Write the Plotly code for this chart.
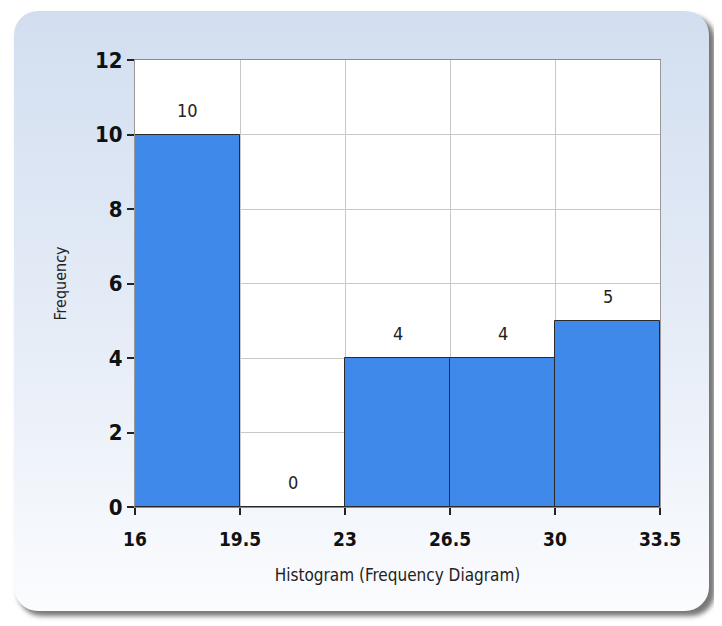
import plotly.graph_objects as go
import base64

bin_edges = [16, 19.5, 23, 26.5, 30, 33.5]
frequencies = [10, 0, 4, 4, 5]
tick_labels = ["16", "19.5", "23", "26.5", "30", "33.5"]
y_ticks = [0, 2, 4, 6, 8, 10, 12]

centers = [(a + b) / 2 for a, b in zip(bin_edges[:-1], bin_edges[1:])]
widths = [b - a for a, b in zip(bin_edges[:-1], bin_edges[1:])]

FONT = "DejaVu Sans Condensed, Liberation Sans Narrow, Roboto Condensed, Liberation Sans, sans-serif"

W, H = 722, 626
OFF = 8  # browser body margin offset
L, T, PW, PH = 135 - OFF, 60 - OFF, 525, 447
R, B = W - L - PW, H - T - PH

svg = f'''<svg xmlns="http://www.w3.org/2000/svg" width="{W}" height="{H}" viewBox="0 0 {W} {H}">
<defs>
<linearGradient id="g" x1="0" y1="0" x2="0" y2="1">
<stop offset="0" stop-color="#d2def0"/>
<stop offset="0.55" stop-color="#e6edf7"/>
<stop offset="1" stop-color="#fbfcfe"/>
</linearGradient>
<filter id="b" x="-5%" y="-5%" width="110%" height="110%"><feGaussianBlur stdDeviation="2.5"/></filter>
</defs>
<rect x="{18-OFF}" y="{16-OFF}" width="697" height="600" rx="24" ry="24" fill="#777" filter="url(#b)"/>
<rect x="{14-OFF}" y="{11-OFF}" width="695" height="600" rx="24" ry="24" fill="url(#g)"/>
</svg>'''
src = "data:image/svg+xml;base64," + base64.b64encode(svg.encode()).decode()

fig = go.Figure()
fig.add_trace(go.Bar(
    x=centers, y=frequencies, width=widths,
    marker=dict(color="#3f89ea", line=dict(color="#2a2a2a", width=1)),
    hoverinfo="skip",
))
for cx, v in zip(centers, frequencies):
    fig.add_annotation(x=cx, y=v, text=str(v), showarrow=False, yanchor="bottom",
                       yshift=12, font=dict(family=FONT, size=18, color="#222222"))

fig.add_shape(type="rect", xref="x domain", yref="y domain", x0=0, x1=1, y0=0, y1=1,
              fillcolor="white", line=dict(width=0), layer="below")

fig.update_layout(
    width=W, height=H,
    margin=dict(l=L, r=R, t=T, b=B),
    paper_bgcolor="rgba(0,0,0,0)", plot_bgcolor="white",
    showlegend=False, bargap=0,
    images=[dict(source=src, xref="paper", yref="paper", x=-L / PW, y=1 + T / PH,
                 sizex=W / PW, sizey=H / PH, xanchor="left", yanchor="top",
                 sizing="stretch", layer="below")],
    xaxis=dict(range=[16, 33.5], tickvals=bin_edges, ticktext=tick_labels,
               showgrid=True, gridcolor="#c8c8c8", gridwidth=1,
               ticks="outside", ticklen=7, tickcolor="#222", tickwidth=2,
               ticklabelstandoff=8,
               showline=True, linecolor="#8a8a8a", linewidth=1, mirror=True,
               tickfont=dict(family=FONT, size=19, color="#111", weight="bold"),
               title=dict(text="Histogram (Frequency Diagram)", standoff=20,
                          font=dict(family=FONT, size=17, color="#222")),
               zeroline=False),
    yaxis=dict(range=[0, 12], tickvals=y_ticks,
               showgrid=True, gridcolor="#c8c8c8", gridwidth=1,
               ticks="outside", ticklen=7, tickcolor="#222", tickwidth=2,
               showline=True, linecolor="#999", linewidth=1, mirror=True,
               tickfont=dict(family=FONT, size=22, color="#111", weight="bold"),
               title=dict(text="Frequency", standoff=24,
                          font=dict(family=FONT, size=16, color="#222")),
               zeroline=False),
)

fig.write_html("out.html")
